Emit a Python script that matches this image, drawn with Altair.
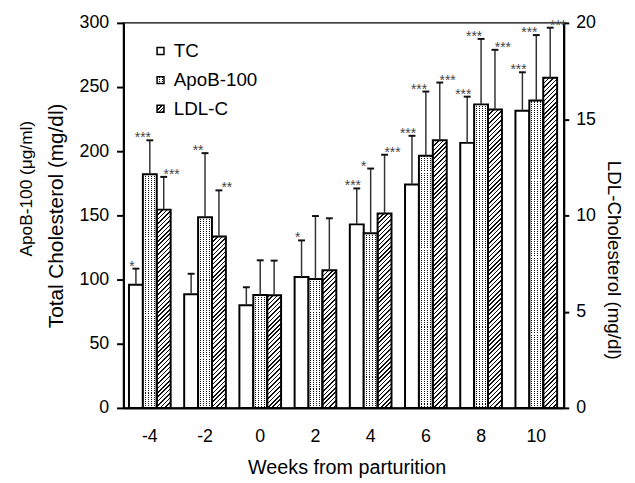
import altair as alt

# ---------------- data ----------------
weeks = [-4, -2, 0, 2, 4, 6, 8, 10]
series = ["TC", "ApoB-100", "LDL-C"]

tc_mean = [96, 88.5, 80, 102, 143, 174, 206.5, 231.5]          # mg/dl
tc_sd = [12.5, 16, 14, 28.5, 28, 38, 36, 30]
tc_sig = ["*", "", "", "*", "***", "***", "***", "***"]

apob_mean = [182, 148.5, 88, 100.5, 136, 196.5, 236.5, 239.5]  # ug/ml
apob_sd = [26.5, 50, 27, 49, 50.5, 50, 51, 51]
apob_sig = ["***", "**", "", "", "*", "***", "***", "***"]

ldl_mean = [10.3, 8.9, 5.85, 7.15, 10.1, 13.9, 15.5, 17.15]     # mg/dl (right axis)
ldl_sd = [1.7, 2.4, 1.8, 2.7, 3.05, 3.0, 3.1, 2.6]
ldl_sig = ["***", "**", "", "", "***", "***", "***", "***"]

left_ticks = [0, 50, 100, 150, 200, 250, 300]
right_ticks = [0, 5, 10, 15, 20]

# ---------------- layout ----------------
LEFT_MAX, RIGHT_MAX = 300, 20
FACTOR = LEFT_MAX / RIGHT_MAX
PLOT_W, PLOT_H = 446, 390
PAD_IN, PAD_OUT, ALIGN = 0.245, 0.11, 0.45
STEP = PLOT_W / (len(weeks) - PAD_IN + 2 * PAD_OUT)
BAR_W = STEP * (1 - PAD_IN) / 3
PX = PLOT_H / LEFT_MAX
FONT = "Liberation Sans"
CLEAR = "rgba(255,255,255,0)"


def rnd(v):
    return round(v, 5)


def stripes(length, period, width, on, off, start=0.0):
    stops = [{"offset": 0, "color": off}]
    pos = start
    while pos < length:
        a = rnd(max(pos, 0) / length)
        b = rnd(min(pos + width, length) / length)
        stops += [{"offset": a, "color": off}, {"offset": a, "color": on},
                  {"offset": b, "color": on}, {"offset": b, "color": off}]
        pos += period
    stops.append({"offset": 1, "color": off})
    return stops


def hatch(w, h, period=4.5):
    L = w + h
    k = L / (w * w + h * h)
    return {"gradient": "linear", "x1": 0, "y1": 0, "x2": rnd(w * k), "y2": rnd(h * k),
            "stops": stripes(L, period, 1.6, "#111111", "#ffffff", 1.0)}


def dots_base(h):
    return {"gradient": "linear", "x1": 0, "y1": 0, "x2": 0, "y2": 1,
            "stops": stripes(h, 2.0, 1.0, "#111111", "#ffffff")}


def dots_mask(w):
    return {"gradient": "linear", "x1": 0, "y1": 0, "x2": 1, "y2": 0,
            "stops": stripes(w, 3.0, 2.0, "#ffffff", CLEAR)}


def fills(name, w, h, period=4.5):
    if name == "TC":
        return "#ffffff", CLEAR
    if name == "ApoB-100":
        return dots_base(h), dots_mask(w)
    return hatch(w, h, period), CLEAR


rows = []
for i, wk in enumerate(weeks):
    for name, means, sds, sigs, fac in (
        ("TC", tc_mean, tc_sd, tc_sig, 1.0),
        ("ApoB-100", apob_mean, apob_sd, apob_sig, 1.0),
        ("LDL-C", ldl_mean, ldl_sd, ldl_sig, FACTOR),
    ):
        m = means[i] * fac
        top = (means[i] + sds[i]) * fac
        f1, f2 = fills(name, BAR_W, m * PX)
        rows.append({"week": wk, "series": name, "ym": m, "yt": top,
                     "sig": sigs[i], "f1": f1, "f2": f2})

data = alt.Data(values=rows)

x_axis = alt.Axis(title="Weeks from parturition", labelAngle=0, ticks=False,
                  labelPadding=20, labelFontSize=18, titleFontSize=20,
                  titleX=226, titleY=50, domainWidth=2, domainColor="black",
                  labelColor="black", titleColor="black")
x_enc = alt.X("week:O", sort=weeks,
              scale=alt.Scale(paddingInner=PAD_IN, paddingOuter=PAD_OUT, align=ALIGN),
              axis=x_axis)
xo_enc = alt.XOffset("series:N", sort=series,
                     scale=alt.Scale(paddingInner=0, paddingOuter=0))


def y_scale():
    return alt.Scale(domain=[0, LEFT_MAX], nice=False, zero=True)


left_axis = alt.Axis(values=left_ticks, title="Total Cholesterol (mg/dl)",
                     titleX=-58, titleFontSize=21, labelFontSize=18,
                     tickSize=7, tickWidth=2, tickColor="black",
                     domainWidth=2, domainColor="black", labelPadding=8,
                     grid=False, labelColor="black", titleColor="black")

base = alt.Chart(data)

bars_fill = base.mark_bar(strokeWidth=0).encode(
    x=x_enc, xOffset=xo_enc,
    y=alt.Y("ym:Q", scale=y_scale(), axis=left_axis),
    fill=alt.Fill("f1:N", scale=None, legend=None),
)
bars_top = base.mark_bar(stroke="black", strokeWidth=2).encode(
    x=x_enc, xOffset=xo_enc,
    y=alt.Y("ym:Q", scale=y_scale(), axis=None),
    fill=alt.Fill("f2:N", scale=None, legend=None),
)
err = base.mark_rule(color="#333333", strokeWidth=1.5).encode(
    x=x_enc, xOffset=xo_enc,
    y=alt.Y("ym:Q", scale=y_scale(), axis=None), y2="yt:Q",
)
caps = base.mark_tick(color="#111111", size=7, thickness=2, opacity=1,
                      orient="horizontal").encode(
    x=x_enc, xOffset=xo_enc,
    y=alt.Y("yt:Q", scale=y_scale(), axis=None),
)

stars = []
for name, dx in (("TC", -4), ("ApoB-100", -7), ("LDL-C", 8)):
    stars.append(
        base.transform_filter(alt.datum.series == name)
        .mark_text(fontSize=14, color="#444444", dx=dx, dy=2,
                   baseline="alphabetic", align="center", font=FONT)
        .encode(x=x_enc, xOffset=xo_enc,
                y=alt.Y("yt:Q", scale=y_scale(), axis=None), text="sig:N")
    )

legend_layers = []
legend_y = [28.5, 58, 87]
for i, name in enumerate(series):
    f1, f2 = fills(name, 7, 7, 3.5)
    ld = alt.Chart(alt.Data(values=[{"series": name, "f1": f1, "f2": f2}]))
    legend_layers.append(ld.mark_square(size=49, strokeWidth=0, opacity=1).encode(
        x=alt.value(37.5), y=alt.value(legend_y[i]),
        fill=alt.Fill("f1:N", scale=None, legend=None)))
    legend_layers.append(ld.mark_square(size=49, stroke="black", strokeWidth=1.5,
                                        opacity=1).encode(
        x=alt.value(37.5), y=alt.value(legend_y[i]),
        fill=alt.Fill("f2:N", scale=None, legend=None)))
    legend_layers.append(ld.mark_text(fontSize=19, align="left", baseline="middle",
                                      font=FONT, color="black").encode(
        x=alt.value(51), y=alt.value(legend_y[i]), text="series:N"))

apob_title = alt.Chart(alt.Data(values=[{"t": "ApoB-100 (\u03bcg/ml)"}])).mark_text(
    angle=270, fontSize=17.5, align="center", baseline="middle", font=FONT,
    color="black").encode(x=alt.value(-98), y=alt.value(168), text="t:N")

right_axis = alt.Axis(orient="right", values=right_ticks, title="LDL-Cholesterol (mg/dl)",
                      titleX=40, titleY=240, titleFontSize=19, labelFontSize=18,
                      tickSize=5, tickWidth=2, tickColor="black",
                      domainWidth=2, domainColor="black", labelPadding=7,
                      grid=False, labelColor="black", titleColor="black")
right_layer = alt.Chart(alt.Data(values=[{"v": v} for v in ldl_mean])).mark_tick(
    opacity=0).encode(
    y=alt.Y("v:Q", scale=alt.Scale(domain=[0, RIGHT_MAX], nice=False, zero=True),
            axis=right_axis))

chart = alt.layer(
    bars_fill, right_layer, bars_top, err, caps, *stars, *legend_layers, apob_title
).resolve_scale(y="independent").properties(
    width=PLOT_W, height=PLOT_H,
    autosize=alt.AutoSizeParams(type="none"),
    padding={"left": 117, "top": 12, "right": 64, "bottom": 73},
    background="white",
).configure_view(stroke="black", strokeWidth=1.5).configure_axis(
    labelFont=FONT, titleFont=FONT, titleFontWeight="normal"
)

chart.save("out.html", embed_options={"renderer": "svg", "actions": False})
